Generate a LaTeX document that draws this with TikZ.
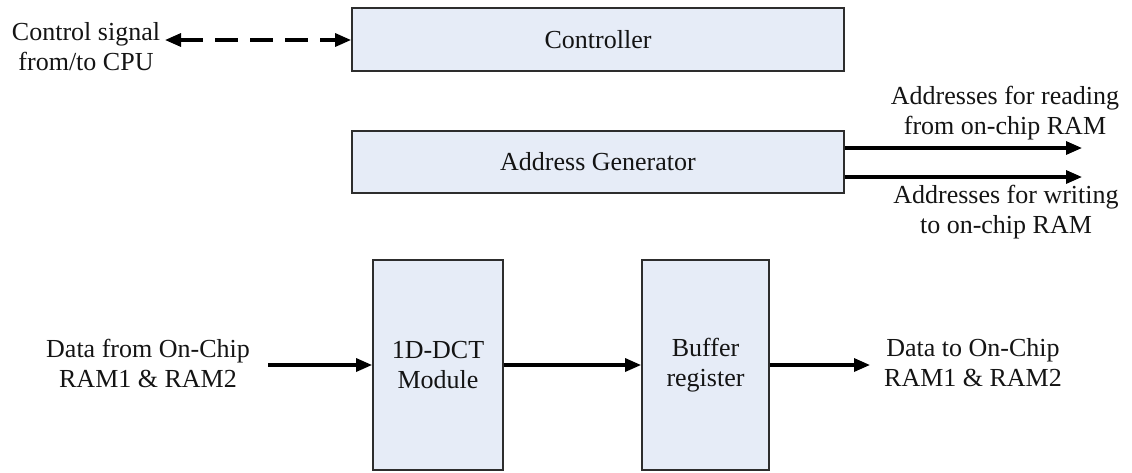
\documentclass[tikz,border=0pt]{standalone}
\usepackage{fontspec}
\setmainfont{Liberation Serif}
\usetikzlibrary{arrows.meta}
\definecolor{boxfill}{RGB}{230,236,247}
\definecolor{boxline}{RGB}{45,45,45}
\definecolor{ink}{RGB}{20,20,20}
\begin{document}
\begin{tikzpicture}[x=1pt,y=-1pt,
  every node/.style={font=\fontsize{26}{30}\selectfont, text=ink, inner sep=0pt, align=center},
  block/.style={draw=boxline, line width=1.8pt, fill=boxfill},
  sig/.style={line width=3.2pt, -{Triangle[length=16pt,width=13pt]}},
  dsig/.style={line width=3.2pt, dash pattern=on 23pt off 12pt,
               {Triangle[length=16pt,width=13pt]}-{Triangle[length=16pt,width=13pt]}}]
  \useasboundingbox (0,0) rectangle (1132,472);

  % blocks
  \node[block, minimum width=492pt, minimum height=63pt] (ctrl) at (598,39.5) {Controller};
  \node[block, minimum width=492pt, minimum height=62pt] (addr) at (598,162) {Address Generator};
  \node[block, minimum width=130pt, minimum height=210pt] (dct) at (438,365) {1D-DCT\\Module};
  \node[block, minimum width=127pt, minimum height=210pt] (buf) at (705.5,365) {Buffer\\register};

  % labels
  \node (cpu) at (86,47) {Control signal\\from/to CPU};
  \node (rdlab) at (1005,113) {Addresses for reading\\from on-chip RAM};
  \node (wrlab) at (1006,212) {Addresses for writing\\to on-chip RAM};
  \node (inlab) at (148,363) {Data from On-Chip\\RAM1 \& RAM2};
  \node (outlab) at (973,363) {Data to On-Chip\\RAM1 \& RAM2};

  % free ends of the connectors
  \coordinate (cpuend) at (165,40);
  \coordinate (rdend) at (1082,148);
  \coordinate (wrend) at (1082,177);
  \coordinate (instart) at (268,365);
  \coordinate (outend) at (870,365);

  % connectors
  \draw[dsig] (cpuend) -- (ctrl.west |- cpuend);
  \draw[sig] (addr.east |- rdend) -- (rdend);
  \draw[sig] (addr.east |- wrend) -- (wrend);
  \draw[sig] (instart) -- (dct.west);
  \draw[sig] (dct.east) -- (buf.west);
  \draw[sig] (buf.east) -- (outend);
\end{tikzpicture}
\end{document}
